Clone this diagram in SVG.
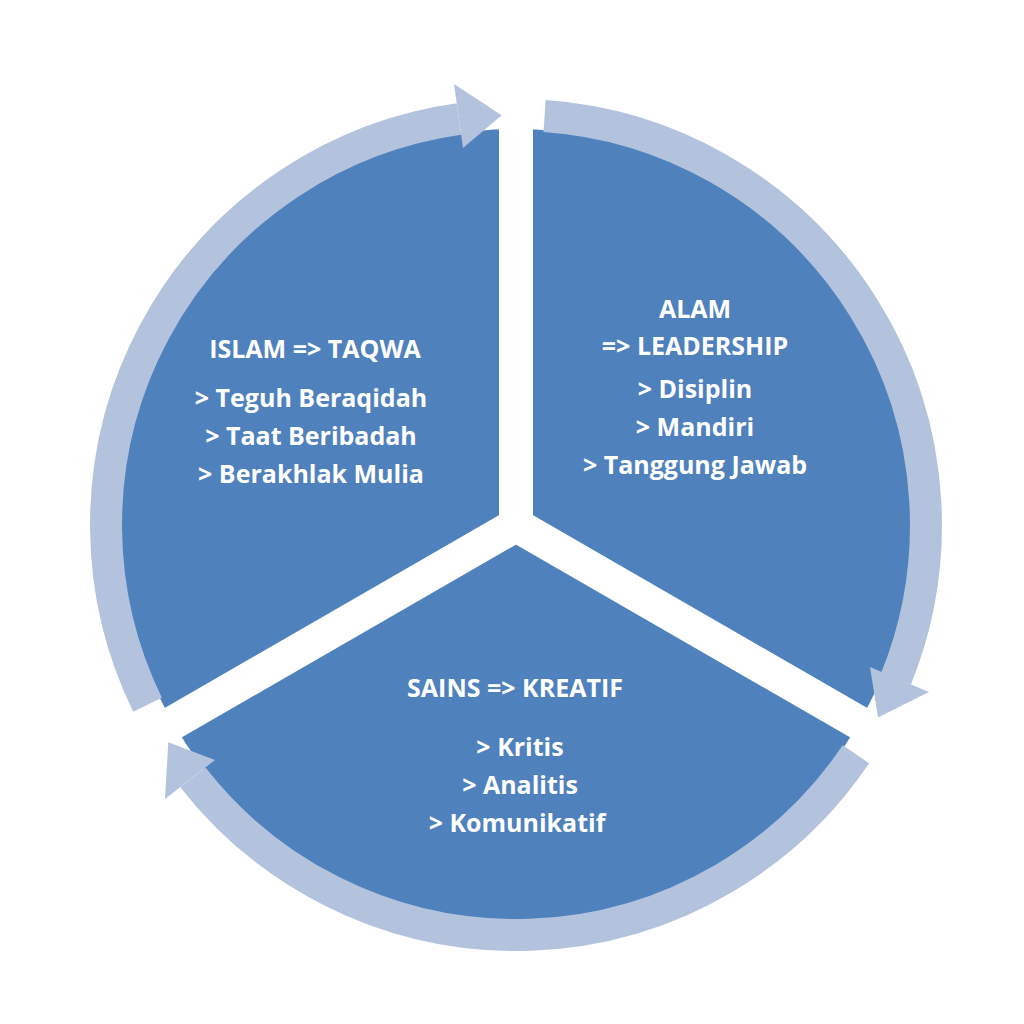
<svg xmlns="http://www.w3.org/2000/svg" width="1024" height="1024" viewBox="0 0 1024 1024">
<style>
.ring{fill:none;stroke:#b3c3de;stroke-width:32}
.head{fill:#b3c3de}
.gap{stroke:#fff;stroke-width:34}
text{font-family:"Open Sans","DejaVu Sans",sans-serif;font-weight:bold;font-size:25px;fill:#fff;text-anchor:middle}
</style>
<rect width="1024" height="1024" fill="#fff"/>
<g id="pie">
<circle cx="516" cy="525" r="396" fill="#4f81bd"/>
</g>
<g id="connectors">
<line class="gap" x1="516" y1="525" x2="516" y2="60"/>
<line class="gap" x1="516" y1="525" x2="920" y2="758"/>
<line class="gap" x1="516" y1="525" x2="112" y2="758"/>
<path class="ring" d="M544.6 116 A410 410 0 0 1 896.1 678.6"/>
<polygon class="head" points="870,667 929,692 878,717.5"/>
<path class="ring" d="M855.9 754.3 A410 410 0 0 1 192.9 777.4"/>
<polygon class="head" points="215,760 165,799 168.3,742.3"/>
<path class="ring" d="M147.5 704.7 A410 410 0 0 1 458.9 119"/>
<polygon class="head" points="463,148 454,84 501.7,115.2"/>
</g>
<g id="islam">
<text x="315" y="358">ISLAM =&gt; TAQWA</text>
<text x="311" y="407">&gt; Teguh Beraqidah</text>
<text x="311" y="445">&gt; Taat Beribadah</text>
<text x="311" y="483">&gt; Berakhlak Mulia</text>
</g>
<g id="alam">
<text x="695" y="318">ALAM</text>
<text x="695" y="355">=&gt; LEADERSHIP</text>
<text x="695" y="398">&gt; Disiplin</text>
<text x="695" y="436">&gt; Mandiri</text>
<text x="695" y="474">&gt; Tanggung Jawab</text>
</g>
<g id="sains">
<text x="515" y="697">SAINS =&gt; KREATIF</text>
<text x="520" y="756">&gt; Kritis</text>
<text x="520" y="794">&gt; Analitis</text>
<text x="517" y="832">&gt; Komunikatif</text>
</g>
</svg>
